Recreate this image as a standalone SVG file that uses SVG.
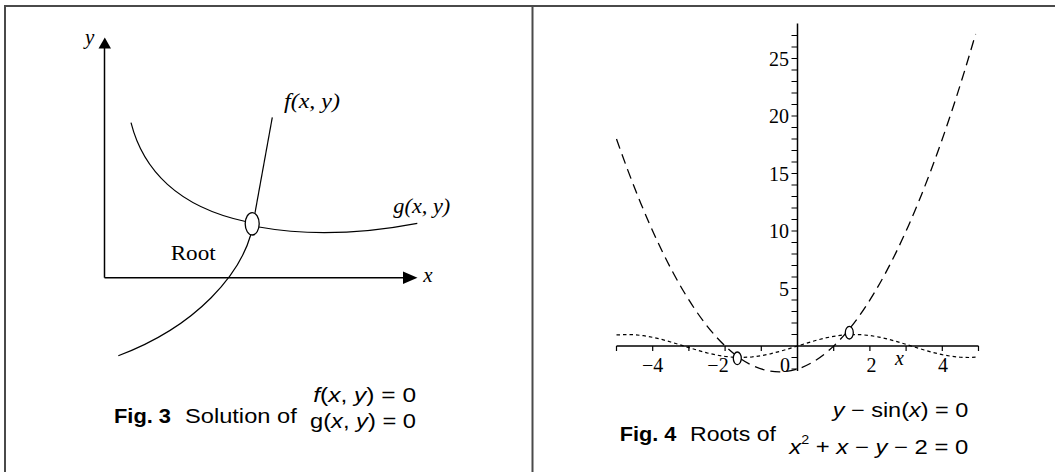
<svg xmlns="http://www.w3.org/2000/svg" width="1055" height="472" viewBox="0 0 1055 472">
<style>
.frame{stroke:#4a4a4a;stroke-width:2;fill:none}
.ax{stroke:#000;stroke-width:1.5;fill:none}
.crv{stroke:#000;stroke-width:1.2;fill:none}
.serif{font-family:"Liberation Serif","Times New Roman",serif;fill:#000}
.it{font-style:italic}
.up{font-style:normal}
.sans{font-family:"Liberation Sans",Arial,sans-serif;fill:#000;font-size:20px}
.b{font-weight:bold}
.tick{stroke:#000;stroke-width:1.2}
.dash{stroke:#000;stroke-width:1.3;fill:none;stroke-dasharray:10 6}
.dot{stroke:#000;stroke-width:1.2;fill:none;stroke-dasharray:3.5 3}
.root{fill:#fff;stroke:#000;stroke-width:1.3}
.num{font-size:20px}
</style>
<g id="frame">
<line class="frame" x1="4" y1="6" x2="1055" y2="6"/>
<line class="frame" x1="5" y1="5" x2="5" y2="472"/>
<line class="frame" x1="532.5" y1="6" x2="532.5" y2="472"/>
</g>
<g id="fig3">
<g id="fig3-axes">
<line class="ax" x1="104.5" y1="277.7" x2="104.5" y2="47"/>
<polygon points="104.8,37.5 98.5,48.5 111,48.5" fill="#000"/>
<line class="ax" x1="104.5" y1="277.7" x2="404" y2="277.7"/>
<polygon points="417.5,277.7 403,271.5 403,284" fill="#000"/>
<text class="serif it" x="85" y="44" font-size="21">y</text>
<text class="serif it" x="423.3" y="281.7" font-size="21">x</text>
</g>
<g id="fig3-curves">
<path class="crv" d="M131,122.7 C143,170 178,207 245.5,221.5"/>
<path class="crv" d="M259,227 Q330,240 417.3,223.3"/>
<path class="crv" d="M272.3,117.3 L255,212.8"/>
<path class="crv" d="M250.7,235 C240,272 200,325 118.3,355.7"/>
</g>
<g id="fig3-root">
<ellipse class="root" cx="252.2" cy="223.8" rx="7" ry="11.2"/>
<text class="serif" x="170.7" y="260" font-size="20" textLength="45" lengthAdjust="spacingAndGlyphs">Root</text>
</g>
<text class="serif it" x="284" y="108" font-size="21" textLength="56" lengthAdjust="spacingAndGlyphs">f(x, y)</text>
<text class="serif it" x="393.3" y="213" font-size="21" textLength="57" lengthAdjust="spacingAndGlyphs">g(x, y)</text>
<g id="fig3-caption">
<text class="sans b" x="114" y="423.3" textLength="57" lengthAdjust="spacingAndGlyphs">Fig. 3</text>
<text class="sans" x="185" y="423.3" textLength="111.7" lengthAdjust="spacingAndGlyphs">Solution of</text>
<text class="sans" x="313.3" y="401.7" textLength="102.7" lengthAdjust="spacingAndGlyphs"><tspan class="it">f</tspan>(<tspan class="it">x</tspan>, <tspan class="it">y</tspan>) = 0</text>
<text class="sans" x="310" y="428.3" textLength="106" lengthAdjust="spacingAndGlyphs">g(<tspan class="it">x</tspan>, <tspan class="it">y</tspan>) = 0</text>
</g>
</g>
<g id="fig4">
<g id="fig4-axes">
<line class="ax" x1="797.5" y1="23.5" x2="797.5" y2="371"/>
<line class="ax" x1="616.5" y1="346" x2="978.5" y2="346"/>
<path class="tick" d="M797.5,369h-6M797.5,357.5h-6M797.5,334.5h-6M797.5,323h-6M797.5,311.5h-6M797.5,300h-6M797.5,288.5h-6M797.5,277h-6M797.5,265.5h-6M797.5,254h-6M797.5,242.5h-6M797.5,231h-6M797.5,219.5h-6M797.5,208h-6M797.5,196.5h-6M797.5,185h-6M797.5,173.5h-6M797.5,162h-6M797.5,150.5h-6M797.5,139h-6M797.5,127.5h-6M797.5,116h-6M797.5,104.5h-6M797.5,93h-6M797.5,81.5h-6M797.5,70h-6M797.5,58.5h-6M797.5,47h-6M797.5,35.5h-6"/>
<path class="tick" d="M616.5,346v5M652.7,346v5M688.9,346v5M725.1,346v5M761.3,346v5M833.7,346v5M869.9,346v5M906.1,346v5M942.3,346v5M978.5,346v5"/>
<g class="serif num" text-anchor="end">
<text x="789" y="65.5">25</text>
<text x="789" y="123">20</text>
<text x="789" y="180.5">15</text>
<text x="789" y="238">10</text>
<text x="789" y="295.5">5</text>
</g>
<g class="serif num" text-anchor="middle">
<text x="652.7" y="371.5">−4</text>
<text x="718" y="371.5">−2</text>
<text x="785" y="371.5">0</text>
<text x="871.5" y="371.5">2</text>
<text x="943" y="371.5">4</text>
</g>
<text class="serif it" x="895" y="365" font-size="20">x</text>
</g>
<g id="fig4-curves">
<path class="dash" d="M616.5,139 Q796.05,652.36 975.6,34.05"/>
<polyline class="dot" points="616.5,334.97 625.55,334.51 634.6,334.76 643.65,335.71 652.7,337.3 661.75,339.43 670.8,341.97 679.85,344.76 688.9,347.62 697.95,350.39 707,352.88 716.05,354.95 725.1,356.46 734.15,357.32 743.2,357.47 752.25,356.91 761.3,355.68 770.35,353.84 779.4,351.51 788.45,348.85 797.5,346 806.55,343.15 815.6,340.49 824.65,338.16 833.7,336.32 842.75,335.09 851.8,334.53 860.85,334.68 869.9,335.54 878.95,337.05 888,339.12 897.05,341.61 906.1,344.38 915.15,347.24 924.2,350.03 933.25,352.57 942.3,354.7 951.35,356.29 960.4,357.24 969.45,357.49 976.7,357.16"/>
</g>
<g id="fig4-roots">
<ellipse class="root" cx="737.3" cy="358.3" rx="4" ry="6.3"/>
<ellipse class="root" cx="849.3" cy="332.7" rx="4" ry="6.3"/>
</g>
<g id="fig4-caption">
<text class="sans b" x="619.7" y="441" textLength="56.6" lengthAdjust="spacingAndGlyphs">Fig. 4</text>
<text class="sans" x="690" y="441" textLength="86" lengthAdjust="spacingAndGlyphs">Roots of</text>
<text class="sans" x="832.7" y="416.7" textLength="135.6" lengthAdjust="spacingAndGlyphs"><tspan class="it">y</tspan> − sin(<tspan class="it">x</tspan>) = 0</text>
<text class="sans" x="789.3" y="454.3" textLength="179" lengthAdjust="spacingAndGlyphs"><tspan class="it">x</tspan><tspan font-size="12" dy="-10">2</tspan><tspan dy="10"> + </tspan><tspan class="it">x</tspan> − <tspan class="it">y</tspan> − 2 = 0</text>
</g>
</g>
</svg>
